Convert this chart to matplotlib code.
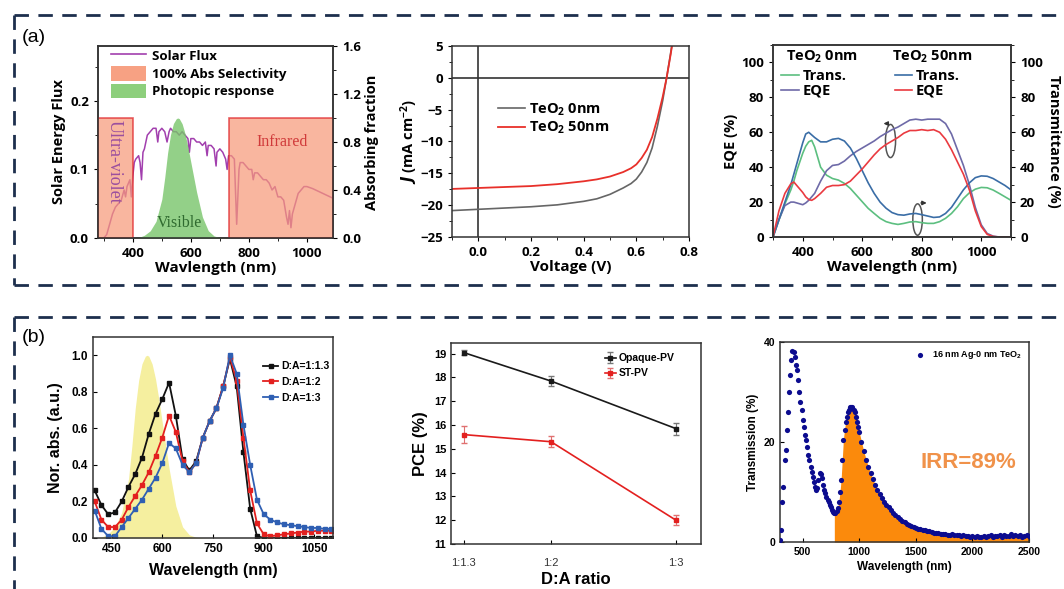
import matplotlib
matplotlib.use('Agg')
import matplotlib.pyplot as plt
from matplotlib.lines import Line2D
from matplotlib.patches import Patch, Ellipse
from matplotlib.ticker import MultipleLocator
import numpy as np

plt.rcParams['font.weight'] = 'bold'
plt.rcParams['axes.labelweight'] = 'bold'
plt.rcParams['mathtext.default'] = 'regular'

TOP = 'Open Sans'
BOT = 'Liberation Sans'

# ---------------- (a) left: solar flux + selectivity
flux_wl = [300, 310, 320, 330, 340, 350, 360, 370, 375, 380,
           390, 395, 400, 405, 410, 420, 425, 430, 435, 440,
           450, 460, 470, 480, 486, 490, 500, 510, 518, 525,
           530, 540, 550, 560, 570, 580, 590, 595, 600, 610,
           620, 630, 640, 650, 656, 660, 670, 680, 687, 690,
           700, 710, 720, 725, 730, 740, 750, 758, 762, 766,
           770, 780, 790, 800, 810, 815, 820, 830, 840, 850,
           860, 870, 880, 890, 900, 910, 920, 930, 935, 940,
           945, 950, 960, 970, 980, 990, 1000, 1020, 1040, 1060,
           1080, 1100]
flux_val = [0.0, 0.005, 0.02, 0.035, 0.045, 0.05, 0.055, 0.07, 0.06, 0.075,
            0.085, 0.06, 0.09, 0.11, 0.115, 0.12, 0.11, 0.085, 0.125, 0.13,
            0.15, 0.155, 0.16, 0.16, 0.14, 0.155, 0.16, 0.155, 0.14, 0.155,
            0.16, 0.155, 0.155, 0.15, 0.155, 0.15, 0.145, 0.125, 0.145, 0.145,
            0.14, 0.14, 0.135, 0.14, 0.12, 0.135, 0.135, 0.13, 0.105, 0.125,
            0.13, 0.125, 0.115, 0.1, 0.12, 0.12, 0.115, 0.02, 0.06, 0.1,
            0.11, 0.11, 0.105, 0.1, 0.1, 0.085, 0.095, 0.095, 0.09, 0.085,
            0.085, 0.08, 0.07, 0.075, 0.06, 0.06, 0.055, 0.03, 0.02, 0.04,
            0.015, 0.035, 0.05, 0.065, 0.07, 0.075, 0.075, 0.072, 0.068, 0.064,
            0.06, 0.056]
region_start = [280, 730]
region_end = [400, 1090]
region_level = [1.0, 1.0]
photopic_wl = [380, 400, 420, 440, 460, 480, 500, 510, 520, 530, 540, 550, 555,
               560, 570, 580, 590, 600, 620, 640, 660, 680, 700, 720, 740]
photopic_val = [0.0, 0.0004, 0.004, 0.023, 0.06, 0.139, 0.323, 0.503, 0.71, 0.862,
                0.954, 0.995, 1.0, 0.995, 0.952, 0.87, 0.757, 0.631, 0.381, 0.175,
                0.061, 0.017, 0.004, 0.001, 0.0]

# ---------------- (a) middle: J-V
jv_v = [-0.1, 0.0, 0.1, 0.2, 0.3, 0.4, 0.45, 0.5, 0.55, 0.58,
        0.6, 0.62, 0.64, 0.66, 0.68, 0.70, 0.715, 0.73, 0.74]
j_0nm = [-20.85, -20.65, -20.45, -20.25, -19.95, -19.4, -19.0, -18.3, -17.3, -16.6,
         -15.9, -14.8, -13.3, -11.0, -7.6, -3.6, 0.0, 3.8, 6.5]
j_50nm = [-17.45, -17.3, -17.15, -17.0, -16.7, -16.25, -15.95, -15.5, -14.8, -14.2,
          -13.6, -12.6, -11.3, -9.3, -6.4, -3.0, 0.0, 3.6, 6.2]

# ---------------- (a) right: EQE / transmittance
eqe_wl = [300, 320, 340, 360, 370, 380, 400, 410, 420, 430, 440,
          460, 480, 500, 520, 540, 560, 580, 600, 620, 640,
          660, 680, 700, 720, 740, 760, 780, 800, 820, 840,
          860, 880, 900, 920, 940, 960, 980, 1000, 1020, 1040,
          1060, 1080, 1100]
trans_0nm = [0, 9.7, 19, 27, 32, 38, 48, 52, 54.5, 55.4, 51.6,
             40, 35.4, 33.5, 32.6, 30.7, 27.8, 24, 20.2, 16.4, 13.5,
             10.7, 8.8, 7.8, 7.2, 7.8, 8.6, 8.8, 8.2, 7.8, 7.8,
             8.8, 10.7, 13.5, 17.3, 22, 25.3, 27.4, 28.4, 28.2, 26.9,
             25, 23, 21]
trans_50nm = [0, 10, 20, 30, 36, 42, 54, 59, 60, 58.5, 57,
              54.5, 54.5, 56, 56.5, 55, 51, 45, 38, 31, 25,
              20, 16.5, 14, 12.8, 12.5, 13.2, 13.5, 12.8, 12, 11.2,
              11.5, 13.5, 17, 22, 27, 31, 34, 35, 34.8, 33.5,
              31.5, 29.5, 27]
eqe_0nm = [0, 10, 18, 20, 20, 19.5, 18.5, 19.5, 21, 23, 25,
           32, 38, 41, 41.5, 43.5, 46.5, 49, 51, 53, 55,
           57.5, 59.5, 61.5, 63, 65, 67, 67.5, 67, 67.5, 67.5,
           67.5, 65, 59, 50, 41, 30, 17, 7, 2, 0.5,
           0, 0, 0]
eqe_50nm = [0, 15, 25, 30.5, 31.5, 29.5, 25.5, 23, 21.5, 21, 22,
            25, 28.5, 29.5, 29.5, 30, 32, 35.5, 39, 43, 47,
            50.5, 53, 55, 57, 59.5, 61, 61, 61.5, 61, 61.5,
            60, 56, 50, 43, 36, 27, 15, 6, 1.5, 0.3,
            0, 0, 0]

# ---------------- (b) left: normalised absorption
abs_wl = list(range(400, 1101, 20))
abs_13 = [0.26, 0.18, 0.13, 0.14, 0.2, 0.28, 0.35, 0.44, 0.57, 0.68,
          0.76, 0.85, 0.67, 0.43, 0.37, 0.42, 0.55, 0.64, 0.71, 0.83,
          0.98, 0.83, 0.47, 0.16, 0.01, 0.0, 0.0, 0.0, 0.0, 0.0,
          0.0, 0.0, 0.0, 0.0, 0.0, 0.0]
abs_12 = [0.2, 0.1, 0.06, 0.06, 0.1, 0.17, 0.23, 0.29, 0.36, 0.45,
          0.55, 0.67, 0.58, 0.42, 0.36, 0.41, 0.55, 0.64, 0.71, 0.83,
          0.99, 0.86, 0.55, 0.26, 0.08, 0.02, 0.01, 0.015, 0.02, 0.025,
          0.03, 0.035, 0.035, 0.04, 0.04, 0.04]
abs_13b = [0.15, 0.05, 0.01, 0.01, 0.06, 0.11, 0.16, 0.21, 0.27, 0.33,
           0.41, 0.52, 0.49, 0.4, 0.36, 0.41, 0.55, 0.64, 0.71, 0.82,
           1.0, 0.9, 0.62, 0.4, 0.21, 0.13, 0.1, 0.085, 0.075, 0.07,
           0.065, 0.06, 0.055, 0.055, 0.05, 0.05]

# ---------------- (b) middle: PCE vs D:A ratio
ratio_x = [1.3, 2.0, 3.0]
ratio_labels = ['1:1.3', '1:2', '1:3']
pce_opaque = [19.05, 17.85, 15.85]
pce_opaque_err = [0.12, 0.2, 0.25]
pce_st = [15.6, 15.3, 12.0]
pce_st_err = [0.35, 0.22, 0.2]

# ---------------- (b) right: transmission spectrum
tr_wl = list(range(300, 1001, 10)) + list(range(1020, 2501, 20))
tr_val = [0.5, 2.5, 8.0, 11.0, 16.5, 18.5, 22.5, 26.0, 30.0, 33.5,
          36.5, 38.3, 38.0, 37.0, 35.5, 34.5, 32.5, 30.0, 28.0, 26.5,
          24.5, 23.0, 21.5, 20.5, 19.0, 17.5, 16.5, 15.0, 14.0, 13.0,
          12.0, 11.0, 10.5, 10.8, 12.5, 13.8, 13.6, 12.8, 11.5, 10.5,
          9.8, 9.0, 8.5, 8.0, 7.4, 7.0, 6.5, 6.0, 5.8, 5.8,
          6.2, 6.8, 8.0, 10.0, 12.5, 16.5, 20.5, 22.5, 24.0, 25.0,
          26.0, 26.5, 27.0, 27.0, 27.0, 26.5, 26.0, 25.0, 24.0, 23.0,
          22.0,
          20.0, 18.2, 16.5, 15.1, 13.8, 12.6, 11.5, 10.5, 9.6, 8.8,
          8.1, 7.5, 7.0, 6.4, 5.9, 5.4, 5.0, 4.6, 4.3, 4.0,
          3.7, 3.5, 3.3, 3.1, 2.9, 2.7, 2.6, 2.5, 2.4, 2.3,
          2.2, 2.0, 1.9, 1.9, 1.8, 1.7, 1.7, 1.6, 1.5, 1.5,
          1.6, 1.5, 1.5, 1.4, 1.3, 1.4, 1.2, 1.3, 1.1, 1.2,
          1.0, 1.2, 1.1, 1.0, 1.3, 1.1, 1.2, 1.4, 1.1, 1.3,
          1.2, 1.5, 1.1, 1.4, 1.3, 1.2, 1.6, 1.3, 1.5, 1.2,
          1.4, 1.1, 1.3, 1.5, 1.2]
irr_start = 780

W, H = 1064, 589
fig = plt.figure(figsize=(W / 100, H / 100), dpi=100)


def box(l, r, t, b):
    return [l / W, 1 - b / H, (r - l) / W, (b - t) / H]


def dash(x0, y0, x1, y1):
    fig.add_artist(Line2D([x0 / W, x1 / W], [1 - y0 / H, 1 - y1 / H],
                          transform=fig.transFigure, color='#1d2f4d', lw=2.0,
                          dashes=(5.2, 3.4)))


# dashed frames
dash(14, 15, 1064, 15)
dash(14, 15, 14, 285)
dash(14, 285, 1064, 285)
dash(14, 317, 1064, 317)
dash(14, 317, 14, 589)
fig.text(22 / W, 1 - 38 / H, '(a)', fontsize=14, weight='normal', family=BOT, va='center')
fig.text(22 / W, 1 - 337 / H, '(b)', fontsize=14, weight='normal', family=BOT, va='center')

# ================= a1
ax1 = fig.add_axes(box(98, 333, 46, 238))
ax1.plot(flux_wl, flux_val, color='#a23fae', lw=1.1)
ax1.set_xlim(280, 1090)
ax1.set_ylim(0, 0.28)
ax1.set_yticks([0.0, 0.1, 0.2])
ax1.yaxis.set_minor_locator(MultipleLocator(0.05))
ax1.set_xticks([400, 600, 800, 1000])
ax1.xaxis.set_minor_locator(MultipleLocator(100))
ax1r = ax1.twinx()
ax1r.set_ylim(0, 1.6)
ax1r.set_yticks([0.0, 0.4, 0.8, 1.2, 1.6])
ax1r.yaxis.set_minor_locator(MultipleLocator(0.2))
ax1r.bar(region_start, region_level, width=np.subtract(region_end, region_start),
         align='edge', color='#f79a7a', alpha=0.72, edgecolor='#e0252a', lw=1.2)
ax1r.fill_between(photopic_wl, photopic_val, color='#78c56a', alpha=0.8, lw=0)
ax1r.text(336, 0.985, 'Ultra-violet', rotation=270, ha='center', va='top',
          family='Liberation Serif', weight='normal', color='#9b4f9e', size=13, clip_on=True)
ax1r.text(915, 0.8, 'Infrared', ha='center', va='center',
          family='Liberation Serif', weight='normal', color='#d03a3a', size=11.5)
ax1r.text(559, 0.125, 'Visible', ha='center', va='center',
          family='Liberation Serif', weight='normal', color='#2f6a2f', size=11.5)
h1 = [Line2D([], [], color='#a23fae', lw=1.2),
      Patch(facecolor='#f7a183', edgecolor='none'),
      Patch(facecolor='#8dcf7c', edgecolor='none')]
ax1r.legend(h1, ['Solar Flux', '100% Abs Selectivity', 'Photopic response'],
            loc='upper left', bbox_to_anchor=(0.02, 1.03), frameon=False,
            prop={'family': TOP, 'weight': 'bold', 'size': 9.5},
            handlelength=2.7, handleheight=1.35, labelspacing=0.22,
            handletextpad=0.4, borderaxespad=0.2)
for a in (ax1, ax1r):
    a.tick_params(which='both', direction='out', labelsize=9.5, labelfontfamily=TOP)
    a.tick_params(which='major', length=3)
    a.tick_params(which='minor', length=2)
ax1.set_xlabel('Wavlength (nm)', family=TOP, size=11, labelpad=1)
ax1.set_ylabel('Solar Energy Flux', family=TOP, size=10.5, labelpad=3)
ax1r.set_ylabel('Absorbing fraction', family=TOP, size=10.5, labelpad=3)

# ================= a2
ax2 = fig.add_axes(box(452, 689, 46, 237))
ax2.axhline(0, color='#333333', lw=1.2)
ax2.axvline(0, color='#333333', lw=1.2)
ax2.plot(jv_v, j_0nm, color='#666666', lw=1.2, label='TeO$_2$ 0nm')
ax2.plot(jv_v, j_50nm, color='#e8302a', lw=1.3, label='TeO$_2$ 50nm')
ax2.set_xlim(-0.1, 0.8)
ax2.set_ylim(-25, 5)
ax2.set_xticks([0.0, 0.2, 0.4, 0.6, 0.8])
ax2.xaxis.set_minor_locator(MultipleLocator(0.1))
ax2.set_yticks(range(-25, 6, 5))
ax2.yaxis.set_minor_locator(MultipleLocator(2.5))
ax2.tick_params(which='both', direction='out', labelsize=9.5, labelfontfamily=TOP)
ax2.tick_params(which='major', length=3)
ax2.tick_params(which='minor', length=2)
ax2.legend(loc='upper left', bbox_to_anchor=(0.14, 0.78), frameon=False,
           prop={'family': TOP, 'weight': 'bold', 'size': 10.5},
           handlelength=1.8, handletextpad=0.3, labelspacing=0.15)
ax2.set_xlabel('Voltage (V)', family=TOP, size=11, labelpad=1)
ax2.set_ylabel('$\\mathit{J}$ (mA cm$^{-2}$)', family=TOP, size=10.5, labelpad=0)

# ================= a3
ax3 = fig.add_axes(box(773, 1011, 45, 237))
l1, = ax3.plot(eqe_wl, trans_0nm, color='#5cbf80', lw=1.2)
l2, = ax3.plot(eqe_wl, eqe_0nm, color='#6e6aa8', lw=1.2)
l3, = ax3.plot(eqe_wl, trans_50nm, color='#3a6da6', lw=1.2)
l4, = ax3.plot(eqe_wl, eqe_50nm, color='#ea3a40', lw=1.2)
ax3.set_xlim(300, 1100)
ax3.set_ylim(0, 110)
ax3.set_xticks([400, 600, 800, 1000])
ax3.xaxis.set_minor_locator(MultipleLocator(100))
ax3.set_yticks(range(0, 101, 20))
ax3.yaxis.set_minor_locator(MultipleLocator(10))
ax3r = ax3.twinx()
ax3r.set_ylim(0, 110)
ax3r.set_yticks(range(0, 101, 20))
ax3r.yaxis.set_minor_locator(MultipleLocator(10))
for a in (ax3, ax3r):
    a.tick_params(which='both', direction='out', labelsize=9.5, labelfontfamily=TOP)
    a.tick_params(which='major', length=3)
    a.tick_params(which='minor', length=2)
ax3.add_patch(Ellipse((695, 55), 34, 19, fill=False, ec='#555555', lw=1.1))
ax3.annotate('', xy=(662, 65), xytext=(697, 65),
             arrowprops=dict(arrowstyle='-|>', color='#333333', lw=1.0, mutation_scale=6))
ax3.add_patch(Ellipse((786, 10), 32, 18, fill=False, ec='#555555', lw=1.1))
ax3.annotate('', xy=(826, 19.5), xytext=(788, 19.5),
             arrowprops=dict(arrowstyle='-|>', color='#333333', lw=1.0, mutation_scale=6))
ax3.text(345, 103, 'TeO$_2$ 0nm', family=TOP, size=10.5, va='center')
ax3.text(700, 103, 'TeO$_2$ 50nm', family=TOP, size=10.5, va='center')
ax3.legend([l1, l2, l3, l4], ['Trans.', 'EQE', 'Trans.', 'EQE'], ncol=2,
           loc='upper left', bbox_to_anchor=(0.035, 0.875), frameon=False,
           prop={'family': TOP, 'weight': 'bold', 'size': 10.5},
           handlelength=1.2, handletextpad=0.25, labelspacing=0.05,
           columnspacing=3.3, borderaxespad=0, borderpad=0)
ax3.set_xlabel('Wavelength (nm)', family=TOP, size=11, labelpad=1)
ax3.set_ylabel('EQE (%)', family=TOP, size=10.5, labelpad=2)
ax3r.set_ylabel('Transmittance (%)', family=TOP, size=10.5, rotation=270, labelpad=13)

# ================= b1
ax4 = fig.add_axes(box(93, 333, 337, 538))
ax4.fill_between(photopic_wl, photopic_val, color='#f5ef9f', lw=0)
ax4.plot(abs_wl, abs_13, color='#111111', marker='s', ms=3.2, lw=1.3, label='D:A=1:1.3')
ax4.plot(abs_wl, abs_12, color='#e3201f', marker='s', ms=3.2, lw=1.3, label='D:A=1:2')
ax4.plot(abs_wl, abs_13b, color='#2f5fb3', marker='s', ms=3.2, lw=1.3, label='D:A=1:3')
ax4.set_xlim(395, 1105)
ax4.set_ylim(0, 1.1)
ax4.set_xticks([450, 600, 750, 900, 1050])
ax4.set_yticks([0.0, 0.2, 0.4, 0.6, 0.8, 1.0])
ax4.tick_params(direction='in', labelsize=8.5, labelfontfamily=BOT, length=3)
ax4.legend(loc='upper left', bbox_to_anchor=(0.69, 0.9), frameon=False,
           prop={'family': BOT, 'weight': 'bold', 'size': 7.5},
           handlelength=1.5, handletextpad=0.3, labelspacing=0.55, borderaxespad=0)
ax4.set_xlabel('Wavelength (nm)', family=BOT, size=11.5, labelpad=6)
ax4.set_ylabel('Nor. abs. (a.u.)', family=BOT, size=11.5, labelpad=6)

# ================= b2
ax5 = fig.add_axes(box(451, 701, 343, 544))
ax5.errorbar(ratio_x, pce_opaque, yerr=pce_opaque_err, color='#1a1a1a', marker='s', ms=3.5,
             lw=1.2, elinewidth=0.8, capsize=2, ecolor='#777777', label='Opaque-PV')
ax5.errorbar(ratio_x, pce_st, yerr=pce_st_err, color='#e3201f', marker='s', ms=3.5,
             lw=1.2, elinewidth=0.8, capsize=2, ecolor='#e07070', label='ST-PV')
ax5.set_xlim(1.2, 3.2)
ax5.set_ylim(11, 19.45)
ax5.set_yticks(range(11, 20))
ax5.set_xticks(ratio_x)
ax5.set_xticklabels(ratio_labels, fontweight='normal', color='#333333')
ax5.tick_params(direction='in', labelsize=8, labelfontfamily=BOT, length=3)
ax5.tick_params(axis='x', pad=10)
ax5.legend(loc='upper left', bbox_to_anchor=(0.6, 0.97), frameon=False,
           prop={'family': BOT, 'weight': 'bold', 'size': 7.5},
           handlelength=1.0, handletextpad=0.3, labelspacing=0.5, borderaxespad=0)
ax5.set_xlabel('D:A ratio', family=BOT, size=12, labelpad=3)
ax5.set_ylabel('PCE (%)', family=BOT, size=12, labelpad=4)

# ================= b3
ax6 = fig.add_axes(box(780, 1029, 342, 542))
tw = np.array(tr_wl)
tv = np.array(tr_val)
sel = tw >= irr_start
ax6.fill_between(tw[sel], tv[sel], color='#fb8a0c', lw=0)
ax6.scatter(tw, tv, s=14, color='#0c0c8f', lw=0, label='16 nm Ag-0 nm TeO$_2$', zorder=3)
ax6.set_xlim(300, 2500)
ax6.set_ylim(0, 40)
ax6.set_xticks([500, 1000, 1500, 2000, 2500])
ax6.set_yticks([0, 20, 40])
ax6.tick_params(direction='in', labelsize=7.5, labelfontfamily=BOT, length=3)
ax6.text(1960, 15.8, 'IRR=89%', ha='center', va='center', family=BOT,
         size=16, weight='bold', color='#f0924a')
ax6.legend(loc='upper right', frameon=False, prop={'family': BOT, 'weight': 'bold', 'size': 6.5},
           handletextpad=0.3, borderaxespad=0.4, markerscale=1.0)
ax6.set_xlabel('Wavelength (nm)', family=BOT, size=8.5, labelpad=3)
ax6.set_ylabel('Transmission (%)', family=BOT, size=8.5, labelpad=3)

for a in (ax1, ax1r, ax2, ax3, ax3r, ax4, ax5, ax6):
    for s in a.spines.values():
        s.set_linewidth(1.1)
        s.set_color('#333333')

fig.savefig('out.png', dpi=100)
